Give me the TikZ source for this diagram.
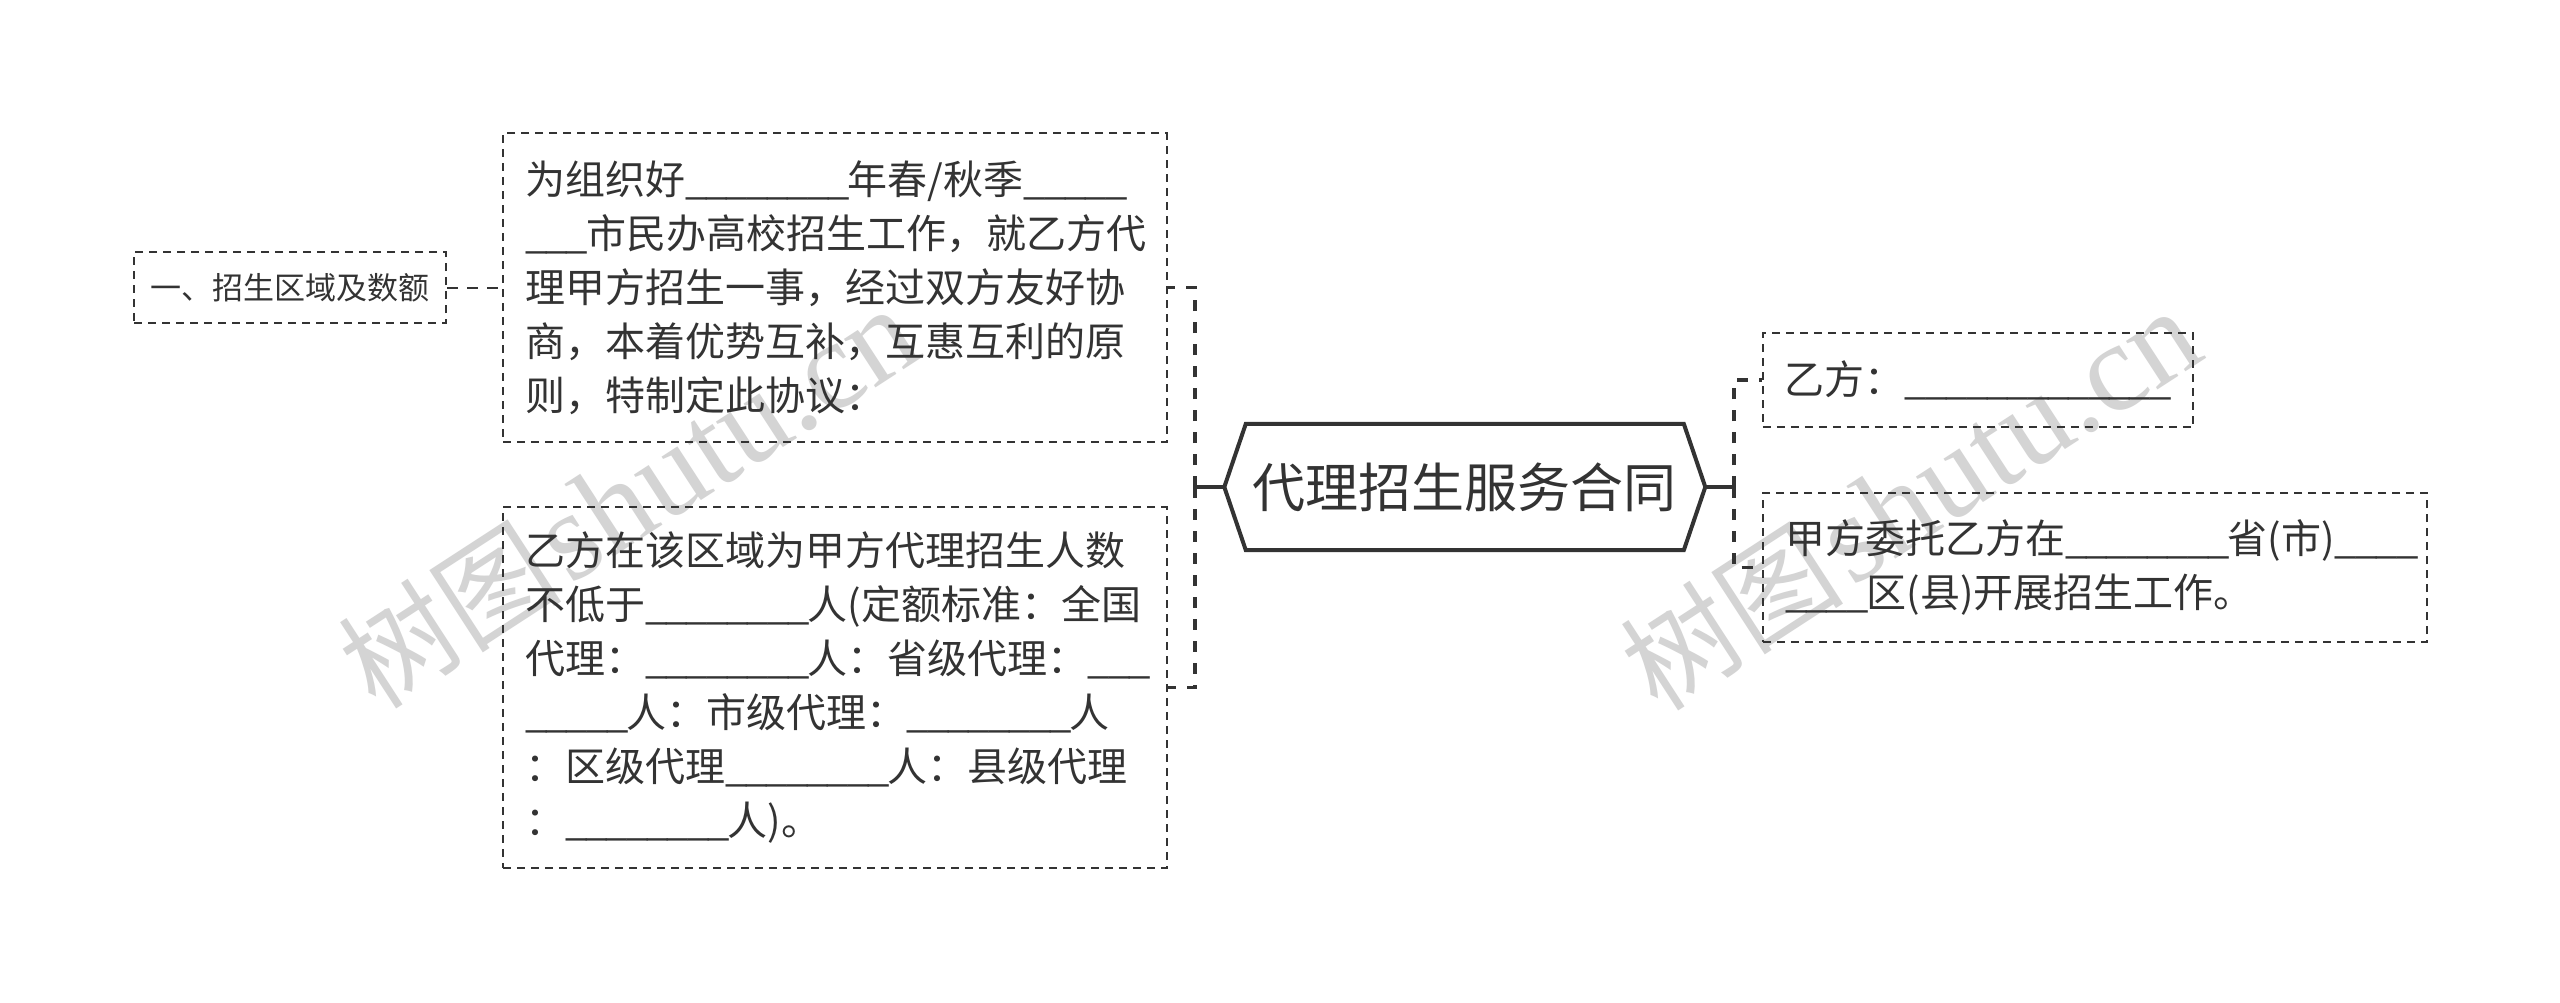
\documentclass[tikz,border=0pt]{standalone}
\usepackage{fontspec}
\setmainfont{Noto Sans CJK SC}
\newfontfamily\wmlatin{Liberation Serif}
\usetikzlibrary{calc}
\definecolor{ink}{HTML}{333333}
\definecolor{wm}{HTML}{D4D4D4}
\newcount\bcnt
\newcommand\blanks[1]{\bcnt=#1\relax\loop\ifnum\bcnt>0 \_\kern-2pt\advance\bcnt by -1\repeat}
\tikzset{
 box/.style={draw=ink, line width=2pt, dash pattern=on 8pt off 6pt, text=ink, inner xsep=22pt, inner ysep=0pt, align=left, font=\fontsize{40}{54}\selectfont},
 tagbox/.style={draw=ink, line width=2pt, dash pattern=on 8pt off 6pt, text=ink, inner sep=0pt, font=\fontsize{31}{40}\selectfont},
 conn/.style={draw=ink, line width=3.5pt, dash pattern=on 11pt off 11pt},
 thinconn/.style={draw=ink, line width=2pt, dash pattern=on 11pt off 9pt},
 stub/.style={draw=ink, line width=3.5pt},
 rootline/.style={draw=ink, line width=4pt, line join=miter},
 wmark/.style={text=wm, inner sep=0pt, rotate=33, anchor=base west},
}
\begin{document}
\begin{tikzpicture}[x=1pt,y=-1pt]
\fill[white] (0,0) rectangle (2560,1002);
\useasboundingbox (0,0) rectangle (2560,1002);
% watermarks
\node[wmark] (wm1) at (376,712) {{\fontsize{112}{112}\selectfont 树图}\hspace{8pt}{\wmlatin\fontsize{126}{126}\selectfont shutu.cn}};
\node[wmark] (wm2) at (1658,714) {{\fontsize{112}{112}\selectfont 树图}\hspace{8pt}{\wmlatin\fontsize{126}{126}\selectfont shutu.cn}};
% nodes
\node[tagbox, minimum width=312pt, minimum height=71pt] (tag) at (290,287.5) {一、招生区域及数额};
\node[box, text width=619.5pt, minimum height=309pt] (b1) at (834.8,287.5) {为组织好\blanks{8}年春/秋季\blanks{5}\\
\blanks{3}市民办高校招生工作，就乙方代\\
理甲方招生一事，经过双方友好协\\
商，本着优势互补，互惠互利的原\\
则，特制定此协议：};
\node[box, text width=619.5pt, minimum height=361pt] (b2) at (834.8,687.5) {乙方在该区域为甲方代理招生人数\\
不低于\blanks{8}人(定额标准：全国\\
代理：\blanks{8}人：省级代理：\blanks{3}\\
\blanks{5}人：市级代理：\blanks{8}人\\
：区级代理\blanks{8}人：县级代理\\
：\blanks{8}人)。};
\node[text=ink, font=\fontsize{53}{60}\selectfont, minimum width=437.6pt, minimum height=126pt, inner sep=0pt] (root) at (1464.8,487) {代理招生服务合同};
\draw[rootline] (root.north west) -- (root.north east) -- ($(root.east)+(21.5,0)$) -- (root.south east) -- (root.south west) -- ($(root.west)+(-21.5,0)$) -- cycle;
\node[box, text width=386.5pt, minimum height=94pt] (r1) at (1978.2,380) {乙方：\blanks{13}};
\node[box, text width=620pt, minimum height=149pt] (r2) at (2095,567.5) {甲方委托乙方在\blanks{8}省(市)\blanks{4}\\
\blanks{4}区(县)开展招生工作。};
% connectors
\coordinate (rootL) at ($(root.west)+(-21.5,0)$);
\coordinate (rootR) at ($(root.east)+(21.5,0)$);
\coordinate (lj) at (1195,487);
\coordinate (rj) at (1734,487);
\draw[stub] (rootL) -- (lj);
\draw[conn] (lj) |- (b1.east);
\draw[conn] (lj) |- (b2.east);
\draw[stub] (rootR) -- (rj);
\draw[conn] (rj) |- (r1.west);
\draw[conn] (rj) |- (r2.west);
\draw[thinconn] (tag.east) -- (b1.west);
\end{tikzpicture}
\end{document}
